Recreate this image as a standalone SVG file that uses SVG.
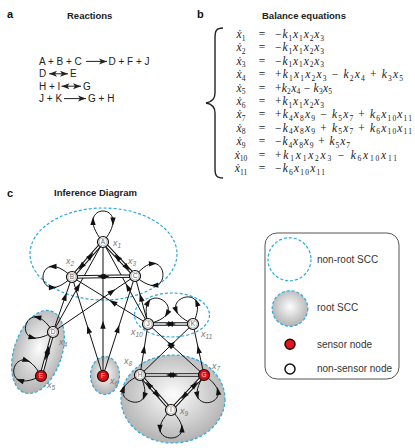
<svg xmlns="http://www.w3.org/2000/svg" width="415" height="448" viewBox="0 0 415 448">
<style>
text{font-family:"Liberation Sans",Arial,sans-serif}
.h{font-weight:bold;font-size:11px;fill:#111}
.ttl{font-weight:bold;font-size:9.5px;fill:#222}
.rx{font-size:10px;fill:#222}
.ra{stroke:#222;stroke-width:1;fill:none;marker-end:url(#rh)}
.rb{stroke:#222;stroke-width:1;fill:none;marker-start:url(#rh);marker-end:url(#rh)}
.eq{font-family:"Liberation Serif","DejaVu Serif",serif;font-style:italic;font-size:11.5px;fill:#1a1a1a}
.up{font-style:normal}
.sb{font-size:7.5px;font-style:normal}
.scc{fill:none;stroke:#2aa9e0;stroke-width:1.2;stroke-dasharray:3 2}
.root{fill:url(#rg)}
.e{fill:none;stroke:#111;stroke-width:1}
.em{marker-mid:url(#ah)}
.dbo{stroke:#111;stroke-width:3.4;fill:none}
.dbi{stroke:#fff;stroke-width:1.3;fill:none}
.am{fill:none;stroke:none;marker-mid:url(#ah)}
.ae{fill:none;stroke:none;marker-end:url(#ah)}
.o{fill:#fff;stroke:#111;stroke-width:1.2}
.i{fill:none;stroke:#9a9a9a;stroke-width:0.6}
.nl{font-size:6.5px;fill:#666;text-anchor:middle}
.s .o{fill:#e3141b;stroke:#2a0505}
.s .i{stroke:#a01010}
.s .nl{fill:#ffc0c0}
.xl{font-style:italic;font-size:9px;fill:#777}
.xs{font-size:6.5px}
.lg{font-size:10px;fill:#333}
</style>
<defs>
<marker id="ah" viewBox="-5 -4 10 8" refX="0" refY="0" markerWidth="10" markerHeight="8" markerUnits="userSpaceOnUse" orient="auto"><path d="M4.2,0 L-3.8,-2.7 L-3.8,2.7 z" fill="#111"/></marker>
<marker id="rh" viewBox="-9 -4 10 8" refX="0" refY="0" markerWidth="10" markerHeight="8" markerUnits="userSpaceOnUse" orient="auto-start-reverse"><path d="M0,0 L-8,-3 L-6,0 L-8,3 z" fill="#222"/></marker>
<radialGradient id="rg" cx="0.5" cy="0.45" r="0.55"><stop offset="0" stop-color="#fdfdfd"/><stop offset="1" stop-color="#b2b2b2"/></radialGradient>
</defs>

<!-- panel a -->
<text class="h" x="7" y="18">a</text>
<text class="ttl" x="67" y="18.5">Reactions</text>
<g id="reactions">
<text class="rx" x="39" y="65">A + B + C</text>
<path class="ra" d="M86,61.4 L107,61.4"/>
<text class="rx" x="108.5" y="65">D + F + J</text>
<text class="rx" x="39" y="77.4">D</text>
<path class="rb" d="M49,73.8 L68,73.8"/>
<text class="rx" x="70" y="77.4">E</text>
<text class="rx" x="39" y="89.8">H + I</text>
<path class="rb" d="M61.5,86.2 L81,86.2"/>
<text class="rx" x="83" y="89.8">G</text>
<text class="rx" x="39" y="102.2">J + K</text>
<path class="ra" d="M64,98.6 L86,98.6"/>
<text class="rx" x="88" y="102.2">G + H</text>
</g>

<!-- panel b -->
<text class="h" x="197" y="18">b</text>
<text class="ttl" x="262" y="18.5">Balance equations</text>
<path d="M223,28 C216,28 215,31 215,38 L215,93 C215,99 212,102 206,103 C212,104 215,107 215,113 L215,168 C215,175 216,178 223,178" fill="none" stroke="#222" stroke-width="1.4"/>
<g id="equations">
<text class="eq" x="241" y="38" text-anchor="middle">ẋ<tspan class="sb" dy="2.5">1</tspan></text>
<text class="eq up" x="262" y="38" text-anchor="middle">=</text>
<text class="eq" x="275" y="38" textLength="49" lengthAdjust="spacing"><tspan class="up">−</tspan>k<tspan class="sb" dy="2.5">1</tspan><tspan dy="-2.5">x</tspan><tspan class="sb" dy="2.5">1</tspan><tspan dy="-2.5">x</tspan><tspan class="sb" dy="2.5">2</tspan><tspan dy="-2.5">x</tspan><tspan class="sb" dy="2.5">3</tspan></text>

<text class="eq" x="241" y="51.4" text-anchor="middle">ẋ<tspan class="sb" dy="2.5">2</tspan></text>
<text class="eq up" x="262" y="51.4" text-anchor="middle">=</text>
<text class="eq" x="275" y="51.4" textLength="49" lengthAdjust="spacing"><tspan class="up">−</tspan>k<tspan class="sb" dy="2.5">1</tspan><tspan dy="-2.5">x</tspan><tspan class="sb" dy="2.5">1</tspan><tspan dy="-2.5">x</tspan><tspan class="sb" dy="2.5">2</tspan><tspan dy="-2.5">x</tspan><tspan class="sb" dy="2.5">3</tspan></text>

<text class="eq" x="241" y="64.8" text-anchor="middle">ẋ<tspan class="sb" dy="2.5">3</tspan></text>
<text class="eq up" x="262" y="64.8" text-anchor="middle">=</text>
<text class="eq" x="275" y="64.8" textLength="49" lengthAdjust="spacing"><tspan class="up">−</tspan>k<tspan class="sb" dy="2.5">1</tspan><tspan dy="-2.5">x</tspan><tspan class="sb" dy="2.5">1</tspan><tspan dy="-2.5">x</tspan><tspan class="sb" dy="2.5">2</tspan><tspan dy="-2.5">x</tspan><tspan class="sb" dy="2.5">3</tspan></text>

<text class="eq" x="241" y="78.2" text-anchor="middle">ẋ<tspan class="sb" dy="2.5">4</tspan></text>
<text class="eq up" x="262" y="78.2" text-anchor="middle">=</text>
<text class="eq" x="275" y="78.2" textLength="128" lengthAdjust="spacing"><tspan class="up">+</tspan>k<tspan class="sb" dy="2.5">1</tspan><tspan dy="-2.5">x</tspan><tspan class="sb" dy="2.5">1</tspan><tspan dy="-2.5">x</tspan><tspan class="sb" dy="2.5">2</tspan><tspan dy="-2.5">x</tspan><tspan class="sb" dy="2.5">3</tspan><tspan class="up" dy="-2.5"> − </tspan>k<tspan class="sb" dy="2.5">2</tspan><tspan dy="-2.5">x</tspan><tspan class="sb" dy="2.5">4</tspan><tspan class="up" dy="-2.5"> + </tspan>k<tspan class="sb" dy="2.5">3</tspan><tspan dy="-2.5">x</tspan><tspan class="sb" dy="2.5">5</tspan></text>

<text class="eq" x="241" y="91.6" text-anchor="middle">ẋ<tspan class="sb" dy="2.5">5</tspan></text>
<text class="eq up" x="262" y="91.6" text-anchor="middle">=</text>
<text class="eq" x="275" y="91.6" textLength="57" lengthAdjust="spacing"><tspan class="up">+</tspan>k<tspan class="sb" dy="2.5">2</tspan><tspan dy="-2.5">x</tspan><tspan class="sb" dy="2.5">4</tspan><tspan class="up" dy="-2.5"> − </tspan>k<tspan class="sb" dy="2.5">3</tspan><tspan dy="-2.5">x</tspan><tspan class="sb" dy="2.5">5</tspan></text>

<text class="eq" x="241" y="105" text-anchor="middle">ẋ<tspan class="sb" dy="2.5">6</tspan></text>
<text class="eq up" x="262" y="105" text-anchor="middle">=</text>
<text class="eq" x="275" y="105" textLength="49" lengthAdjust="spacing"><tspan class="up">+</tspan>k<tspan class="sb" dy="2.5">1</tspan><tspan dy="-2.5">x</tspan><tspan class="sb" dy="2.5">1</tspan><tspan dy="-2.5">x</tspan><tspan class="sb" dy="2.5">2</tspan><tspan dy="-2.5">x</tspan><tspan class="sb" dy="2.5">3</tspan></text>

<text class="eq" x="241" y="118.4" text-anchor="middle">ẋ<tspan class="sb" dy="2.5">7</tspan></text>
<text class="eq up" x="262" y="118.4" text-anchor="middle">=</text>
<text class="eq" x="275" y="118.4" textLength="137" lengthAdjust="spacing"><tspan class="up">+</tspan>k<tspan class="sb" dy="2.5">4</tspan><tspan dy="-2.5">x</tspan><tspan class="sb" dy="2.5">8</tspan><tspan dy="-2.5">x</tspan><tspan class="sb" dy="2.5">9</tspan><tspan class="up" dy="-2.5"> − </tspan>k<tspan class="sb" dy="2.5">5</tspan><tspan dy="-2.5">x</tspan><tspan class="sb" dy="2.5">7</tspan><tspan class="up" dy="-2.5"> + </tspan>k<tspan class="sb" dy="2.5">6</tspan><tspan dy="-2.5">x</tspan><tspan class="sb" dy="2.5">10</tspan><tspan dy="-2.5">x</tspan><tspan class="sb" dy="2.5">11</tspan></text>

<text class="eq" x="241" y="131.8" text-anchor="middle">ẋ<tspan class="sb" dy="2.5">8</tspan></text>
<text class="eq up" x="262" y="131.8" text-anchor="middle">=</text>
<text class="eq" x="275" y="131.8" textLength="137" lengthAdjust="spacing"><tspan class="up">−</tspan>k<tspan class="sb" dy="2.5">4</tspan><tspan dy="-2.5">x</tspan><tspan class="sb" dy="2.5">8</tspan><tspan dy="-2.5">x</tspan><tspan class="sb" dy="2.5">9</tspan><tspan class="up" dy="-2.5"> + </tspan>k<tspan class="sb" dy="2.5">5</tspan><tspan dy="-2.5">x</tspan><tspan class="sb" dy="2.5">7</tspan><tspan class="up" dy="-2.5"> + </tspan>k<tspan class="sb" dy="2.5">6</tspan><tspan dy="-2.5">x</tspan><tspan class="sb" dy="2.5">10</tspan><tspan dy="-2.5">x</tspan><tspan class="sb" dy="2.5">11</tspan></text>

<text class="eq" x="241" y="145.2" text-anchor="middle">ẋ<tspan class="sb" dy="2.5">9</tspan></text>
<text class="eq up" x="262" y="145.2" text-anchor="middle">=</text>
<text class="eq" x="275" y="145.2" textLength="75" lengthAdjust="spacing"><tspan class="up">−</tspan>k<tspan class="sb" dy="2.5">4</tspan><tspan dy="-2.5">x</tspan><tspan class="sb" dy="2.5">8</tspan><tspan dy="-2.5">x</tspan><tspan class="sb" dy="2.5">9</tspan><tspan class="up" dy="-2.5"> + </tspan>k<tspan class="sb" dy="2.5">5</tspan><tspan dy="-2.5">x</tspan><tspan class="sb" dy="2.5">7</tspan></text>

<text class="eq" x="241" y="158.6" text-anchor="middle">ẋ<tspan class="sb" dy="2.5">10</tspan></text>
<text class="eq up" x="262" y="158.6" text-anchor="middle">=</text>
<text class="eq" x="275" y="158.6" textLength="122" lengthAdjust="spacing"><tspan class="up">+</tspan>k<tspan class="sb" dy="2.5">1</tspan><tspan dy="-2.5">x</tspan><tspan class="sb" dy="2.5">1</tspan><tspan dy="-2.5">x</tspan><tspan class="sb" dy="2.5">2</tspan><tspan dy="-2.5">x</tspan><tspan class="sb" dy="2.5">3</tspan><tspan class="up" dy="-2.5"> − </tspan>k<tspan class="sb" dy="2.5">6</tspan><tspan dy="-2.5">x</tspan><tspan class="sb" dy="2.5">10</tspan><tspan dy="-2.5">x</tspan><tspan class="sb" dy="2.5">11</tspan></text>

<text class="eq" x="241" y="172" text-anchor="middle">ẋ<tspan class="sb" dy="2.5">11</tspan></text>
<text class="eq up" x="262" y="172" text-anchor="middle">=</text>
<text class="eq" x="275" y="172" textLength="50" lengthAdjust="spacing"><tspan class="up">−</tspan>k<tspan class="sb" dy="2.5">6</tspan><tspan dy="-2.5">x</tspan><tspan class="sb" dy="2.5">10</tspan><tspan dy="-2.5">x</tspan><tspan class="sb" dy="2.5">11</tspan></text>
</g>

<!-- panel c -->
<text class="h" x="7" y="197">c</text>
<text class="ttl" x="54" y="196">Inference Diagram</text>

<g id="sccs">
<ellipse class="root" cx="38" cy="352" rx="24" ry="43" transform="rotate(18 38 352)"/>
<ellipse class="scc" cx="38" cy="352" rx="24" ry="43" transform="rotate(18 38 352)"/>
<ellipse class="root" cx="105" cy="375.5" rx="14.5" ry="19"/>
<ellipse class="scc" cx="105" cy="375.5" rx="14.5" ry="19"/>
<ellipse class="root" cx="173" cy="399" rx="52" ry="44"/>
<ellipse class="scc" cx="173" cy="399" rx="52" ry="44"/>
<ellipse class="scc" cx="103.5" cy="254" rx="73.5" ry="46"/>
<ellipse class="scc" cx="172" cy="315" rx="37.5" ry="22"/>
</g>

<g id="connectors">
<!-- single directed edges -->
<path class="e em" d="M53,332 L78,287 L103,242"/>
<path class="e em" d="M53,332 L65.2,296.8 L72,277"/>
<path class="e em" d="M53,332 L112,291.7 L135,276"/>
<path class="e em" d="M103,376 L103,325 L103,242"/>
<path class="e em" d="M103,376 L88.4,329.5 L72,277"/>
<path class="e em" d="M103,376 L118,329 L135,276"/>
<path class="e em" d="M148,324 L127.75,287.1 L103,242"/>
<path class="e em" d="M148,324 L113,302.4 L72,277"/>
<path class="e em" d="M148,324 L140.85,297.6 L135,276"/>
<path class="e em" d="M140,375 L144,349.5 L148,324"/>
<path class="e em" d="M204,375 L198.5,349.5 L193,324"/>
<path class="e em" d="M140,375 L171.8,344.4 L193,324"/>
<path class="e em" d="M204,375 L170.4,344.4 L148,324"/>
<!-- bidirectional double edges -->
<path class="dbo" d="M103,242 L72,277 M103,242 L135,276 M72,277 L135,276 M53,332 L41,376 M148,324 L193,324 M140,375 L204,375 M140,375 L171,410 M204,375 L171,410"/>
<path class="dbi" d="M103,242 L72,277 M103,242 L135,276 M72,277 L135,276 M53,332 L41,376 M148,324 L193,324 M140,375 L204,375 M140,375 L171,410 M204,375 L171,410"/>
<path class="am" d="M103,242 L81.3,266.5 L72,277"/>
<path class="am" d="M72,277 L90.6,256 L103,242"/>
<path class="am" d="M103,242 L127,267.5 L135,276"/>
<path class="am" d="M135,276 L117.4,257.3 L103,242"/>
<path class="am" d="M72,277 L105.4,276.5 L135,276"/>
<path class="am" d="M135,276 L101.6,276.5 L72,277"/>
<path class="am" d="M53,332 L46.4,356.2 L41,376"/>
<path class="am" d="M41,376 L48.2,349.6 L53,332"/>
<path class="am" d="M148,324 L171.85,324 L193,324"/>
<path class="am" d="M193,324 L169.15,324 L148,324"/>
<path class="am" d="M140,375 L173.9,375 L204,375"/>
<path class="am" d="M204,375 L170.1,375 L140,375"/>
<path class="am" d="M140,375 L157,394.3 L171,410"/>
<path class="am" d="M171,410 L148.7,384.8 L140,375"/>
<path class="am" d="M204,375 L184.2,396 L171,410"/>
<path class="am" d="M171,410 L194.8,384.8 L204,375"/>
<!-- self loops -->
<path class="e" d="M103,242 C68.36,200.67 137.64,200.67 103,242"/>
<path class="ae" d="M93,221.8 L93,221.3"/>
<path class="ae" d="M113,220.8 L113,221.3"/>
<path class="e" d="M72,277 C33.33,240.63 33.33,313.37 72,277"/>
<path class="ae" d="M53.17,266.5 L52.67,266.5"/>
<path class="ae" d="M52.17,287.5 L52.67,287.5"/>
<path class="e" d="M135,276 C169.17,235.04 175.25,311 135,276"/>
<path class="ae" d="M152.23,263.59 L152.73,263.55"/>
<path class="ae" d="M154.99,285.43 L154.49,285.47"/>
<path class="e" d="M53,332 C25.61,287.67 7.97,358.23 53,332"/>
<path class="ae" d="M37.93,317.4 L37.44,317.28"/>
<path class="ae" d="M31.86,337.54 L32.34,337.66"/>
<path class="e" d="M41,376 C-5.52,399.5 16.3,330.1 41,376"/>
<path class="ae" d="M20.52,380.57 L20.04,380.42"/>
<path class="ae" d="M25.86,360.23 L26.34,360.38"/>
<path class="e" d="M148,324 C134.54,272.39 199.88,311.59 148,324"/>
<path class="ae" d="M147.91,302.76 L148.17,302.33"/>
<path class="ae" d="M167.29,313.22 L167.03,313.65"/>
<path class="e" d="M193,324 C215.56,275.69 144.24,302.43 193,324"/>
<path class="ae" d="M196.93,303.14 L196.75,302.67"/>
<path class="ae" d="M175.97,309.92 L176.15,310.39"/>
<path class="e" d="M140,375 C163.5,422.89 91.64,397.51 140,375"/>
<path class="ae" d="M144.32,395.79 L144.15,396.26"/>
<path class="ae" d="M123.24,389.41 L123.41,388.94"/>
<path class="e" d="M204,375 C175.68,418.71 246.96,404.45 204,375"/>
<path class="ae" d="M197.27,394.87 L197.37,395.36"/>
<path class="ae" d="M218.05,391.73 L217.95,391.24"/>
<path class="e" d="M171,410 C132.9,447.33 209.1,447.33 171,410"/>
<path class="ae" d="M160,428.17 L160,428.67"/>
<path class="ae" d="M182,429.17 L182,428.67"/>
</g>

<g id="A" class="n"><circle class="o" cx="103" cy="242" r="5.5"/><circle class="i" cx="103" cy="242" r="4"/><text class="nl" x="103" y="244.4">A</text></g>
<g id="B" class="n"><circle class="o" cx="72" cy="277" r="5.5"/><circle class="i" cx="72" cy="277" r="4"/><text class="nl" x="72" y="279.4">B</text></g>
<g id="C" class="n"><circle class="o" cx="135" cy="276" r="5.5"/><circle class="i" cx="135" cy="276" r="4"/><text class="nl" x="135" y="278.4">C</text></g>
<g id="D" class="n"><circle class="o" cx="53" cy="332" r="5.5"/><circle class="i" cx="53" cy="332" r="4"/><text class="nl" x="53" y="334.4">D</text></g>
<g id="E" class="n s"><circle class="o" cx="41" cy="376" r="5.5"/><circle class="i" cx="41" cy="376" r="4"/><text class="nl" x="41" y="378.4">E</text></g>
<g id="F" class="n s"><circle class="o" cx="103" cy="376" r="5.5"/><circle class="i" cx="103" cy="376" r="4"/><text class="nl" x="103" y="378.4">F</text></g>
<g id="G" class="n s"><circle class="o" cx="204" cy="375" r="5.5"/><circle class="i" cx="204" cy="375" r="4"/><text class="nl" x="204" y="377.4">G</text></g>
<g id="H" class="n"><circle class="o" cx="140" cy="375" r="5.5"/><circle class="i" cx="140" cy="375" r="4"/><text class="nl" x="140" y="377.4">H</text></g>
<g id="I" class="n"><circle class="o" cx="171" cy="410" r="5.5"/><circle class="i" cx="171" cy="410" r="4"/><text class="nl" x="171" y="412.4">I</text></g>
<g id="J" class="n"><circle class="o" cx="148" cy="324" r="5.5"/><circle class="i" cx="148" cy="324" r="4"/><text class="nl" x="148" y="326.4">J</text></g>
<g id="K" class="n"><circle class="o" cx="193" cy="324" r="5.5"/><circle class="i" cx="193" cy="324" r="4"/><text class="nl" x="193" y="326.4">K</text></g>

<g id="labels">
<text class="xl" x="113" y="246">x<tspan class="xs" dy="2">1</tspan></text>
<text class="xl" x="66" y="264">x<tspan class="xs" dy="2">2</tspan></text>
<text class="xl" x="128" y="264">x<tspan class="xs" dy="2">3</tspan></text>
<text class="xl" x="59" y="345">x<tspan class="xs" dy="2">4</tspan></text>
<text class="xl" x="47" y="388">x<tspan class="xs" dy="2">5</tspan></text>
<text class="xl" x="110" y="384">x<tspan class="xs" dy="2">6</tspan></text>
<text class="xl" x="212" y="369">x<tspan class="xs" dy="2">7</tspan></text>
<text class="xl" x="124" y="364">x<tspan class="xs" dy="2">8</tspan></text>
<text class="xl" x="180" y="414">x<tspan class="xs" dy="2">9</tspan></text>
<text class="xl" x="131" y="335">x<tspan class="xs" dy="2">10</tspan></text>
<text class="xl" x="201" y="337">x<tspan class="xs" dy="2">11</tspan></text>
</g>

<g id="legend">
<rect x="265" y="233" width="134" height="146" rx="12" fill="#fff" stroke="#555" stroke-width="1"/>
<circle class="scc" cx="289.5" cy="259.3" r="21.5"/>
<text class="lg" x="317" y="263">non-root SCC</text>
<circle class="root" cx="290" cy="308.5" r="17.8"/>
<circle class="scc" cx="290" cy="308.5" r="17.8"/>
<text class="lg" x="317" y="311">root SCC</text>
<circle cx="290" cy="344.3" r="5" fill="#e3141b" stroke="#2a0505" stroke-width="1.5"/>
<text class="lg" x="317" y="347.5">sensor node</text>
<circle cx="290" cy="369" r="5" fill="#fff" stroke="#111" stroke-width="1.5"/>
<text class="lg" x="317" y="372">non-sensor node</text>
</g>
</svg>
